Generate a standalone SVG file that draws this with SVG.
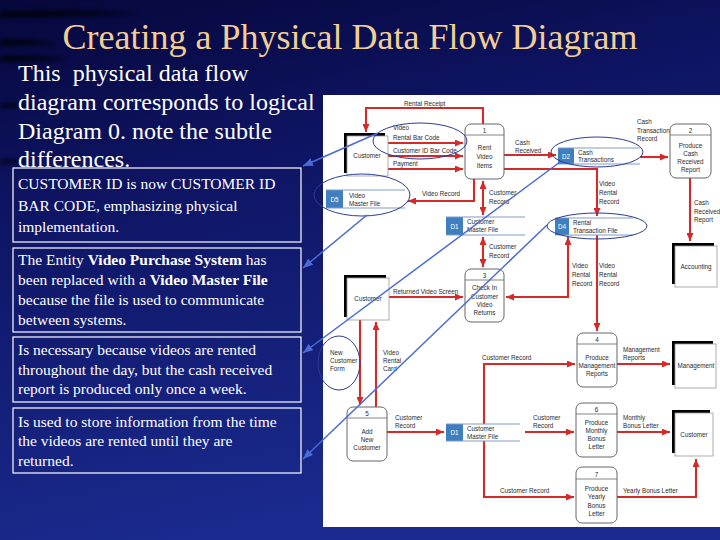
<svg xmlns="http://www.w3.org/2000/svg" width="720" height="540" viewBox="0 0 720 540">
<defs>
<linearGradient id="bg" x1="0" y1="0" x2="0.3" y2="1">
<stop offset="0" stop-color="#06073a"/>
<stop offset="0.35" stop-color="#0e1462"/>
<stop offset="1" stop-color="#1a2a8e"/>
</linearGradient>
<filter id="blur" x="-20%" y="-200%" width="140%" height="500%"><feGaussianBlur stdDeviation="2"/></filter>
<marker id="ar" viewBox="0 0 8 7" refX="8" refY="3.5" markerWidth="8" markerHeight="7" markerUnits="userSpaceOnUse" orient="auto-start-reverse">
<path d="M0,0 L8,3.5 L0,7 z" fill="#d42a2a"/>
</marker>
<marker id="ab" viewBox="0 0 10 8" refX="10" refY="4" markerWidth="10" markerHeight="8" markerUnits="userSpaceOnUse" orient="auto">
<path d="M0,0 L10,4 L0,8 z" fill="#4a6ad6"/>
</marker>
<style>
.title{font-family:"Liberation Serif",serif;font-size:36px;fill:#f2ce96}
.intro{font-family:"Liberation Serif",serif;font-size:24px;fill:#ffffff}
.note{font-family:"Liberation Serif",serif;font-size:15.5px;fill:#ffffff}
.nbox{fill:none;stroke:#ffffff;stroke-width:1.2}
.lbl{font-family:"Liberation Sans",Arial,sans-serif;font-size:6.3px;fill:#2a2a2a}
.ctr{text-anchor:middle}
.proc{fill:#ffffff;stroke:#666;stroke-width:1}
.hdr{stroke:#666;stroke-width:0.8}
.ent{fill:#ffffff;stroke:#999;stroke-width:0.8}
.sh{fill:#000}
.sid{fill:#3f7fc0}
.sln{stroke:#7f9cc4;stroke-width:1}
.sw{fill:#fff}
.sidt{font-family:"Liberation Sans",Arial,sans-serif;font-size:6.3px;fill:#fff;text-anchor:middle}
.flow{fill:none;stroke:#d42a2a;stroke-width:2.1;marker-end:url(#ar)}
.flow2{fill:none;stroke:#d42a2a;stroke-width:2.1;marker-end:url(#ar);marker-start:url(#ar)}
.ell{fill:none;stroke:#2c3c94;stroke-width:1}
.ann{fill:none;stroke:#4a6ad6;stroke-width:1.5;marker-end:url(#ab)}
</style>
</defs>

<rect x="0" y="0" width="720" height="540" fill="url(#bg)"/>
<g filter="url(#blur)" opacity="0.75">
<path d="M0,12 Q60,8 140,14 L0,18 z" fill="#000"/>
<path d="M0,40 Q30,38 60,44 L0,46 z" fill="#000"/>
<path d="M0,56 Q40,54 70,60 L0,62 z" fill="#000"/>
<path d="M0,104 Q20,102 40,106 L0,108 z" fill="#000"/>
<path d="M0,160 Q20,158 30,162 L0,164 z" fill="#000"/>
</g>

<text class="title ctr" x="350" y="49">Creating a Physical Data Flow Diagram</text>

<g id="intro">
<text class="intro" x="18" y="81" xml:space="preserve">This  physical data flow</text>
<text class="intro" x="18" y="110">diagram corresponds to logical</text>
<text class="intro" x="18" y="139">Diagram 0. note the subtle</text>
<text class="intro" x="18" y="167">differences.</text>
</g>

<g id="note1">
<rect class="nbox" x="13" y="168" width="288" height="74"/>
<text class="note" x="18" y="189">CUSTOMER ID is now CUSTOMER ID</text>
<text class="note" x="18" y="211">BAR CODE, emphasizing physical</text>
<text class="note" x="18" y="232">implementation.</text>
</g>
<g id="note2">
<rect class="nbox" x="13" y="248" width="288" height="84"/>
<text class="note" x="18" y="265">The Entity <tspan font-weight="bold">Video Purchase System</tspan> has</text>
<text class="note" x="18" y="285">been replaced with a <tspan font-weight="bold">Video Master File</tspan></text>
<text class="note" x="18" y="305">because the file is used to communicate</text>
<text class="note" x="18" y="325">between systems.</text>
</g>
<g id="note3">
<rect class="nbox" x="13" y="337" width="288" height="65"/>
<text class="note" x="18" y="355">Is necessary because videos are rented</text>
<text class="note" x="18" y="375">throughout the day, but the cash received</text>
<text class="note" x="18" y="394">report is produced only once a week.</text>
</g>
<g id="note4">
<rect class="nbox" x="13" y="408" width="288" height="65"/>
<text class="note" x="18" y="427">Is used to store information from the time</text>
<text class="note" x="18" y="446">the videos are rented until they are</text>
<text class="note" x="18" y="466">returned.</text>
</g>

<rect id="panel" x="323" y="95" width="397" height="432" fill="#ffffff"/>

<g id="connectors">
<path class="flow" d="M483,124 V108 H366 V132"/>
<path class="flow" d="M388,143 H463"/>
<path class="flow" d="M388,156 H463"/>
<path class="flow" d="M388,169 H463"/>
<path class="flow" d="M504,155 H556"/>
<path class="flow" d="M504,169 H597 V216"/>
<path class="flow" d="M640,157 H668"/>
<path class="flow" d="M690,178 V241"/>
<path class="flow" d="M474,179 V201 H408"/>
<path class="flow2" d="M483,181 V215"/>
<path class="flow2" d="M483,237 V267"/>
<path class="flow" d="M389,297 H463"/>
<path class="flow2" d="M506,297 H568 V237"/>
<path class="flow" d="M597,235 V331"/>
<path class="flow" d="M360,320 V405"/>
<path class="flow" d="M376,407 V322"/>
<path class="flow" d="M387,432 H444"/>
<path class="flow" d="M525,432 H574"/>
<path class="flow" d="M484,432 V364 H575"/>
<path class="flow" d="M484,432 V497 H574"/>
<path class="flow" d="M617,364 H670"/>
<path class="flow" d="M617,432 H670"/>
<path class="flow" d="M617,497 H696 V459"/>
</g>

<g id="labels">
<text class="lbl" x="404" y="105.5">Rental Receipt</text>
<text class="lbl" x="393" y="130">Video</text>
<text class="lbl" x="393" y="139.5">Rental Bar Code</text>
<text class="lbl" x="393" y="153">Customer ID Bar Code</text>
<text class="lbl" x="393" y="166">Payment</text>
<text class="lbl" x="515" y="144.5">Cash</text>
<text class="lbl" x="515" y="153">Received</text>
<text class="lbl" x="637" y="124">Cash</text>
<text class="lbl" x="637" y="132.5">Transaction</text>
<text class="lbl" x="637" y="141">Record</text>
<text class="lbl" x="599" y="186">Video</text>
<text class="lbl" x="599" y="195">Rental</text>
<text class="lbl" x="599" y="203.5">Record</text>
<text class="lbl" x="694" y="205">Cash</text>
<text class="lbl" x="694" y="213.5">Received</text>
<text class="lbl" x="694" y="222">Report</text>
<text class="lbl" x="422" y="196">Video Record</text>
<text class="lbl" x="489" y="195">Customer</text>
<text class="lbl" x="489" y="204">Record</text>
<text class="lbl" x="489" y="249">Customer</text>
<text class="lbl" x="489" y="258">Record</text>
<text class="lbl" x="393" y="293.5">Returned Video Screen</text>
<text class="lbl" x="572" y="268">Video</text>
<text class="lbl" x="572" y="277">Rental</text>
<text class="lbl" x="572" y="285.5">Record</text>
<text class="lbl" x="599" y="268">Video</text>
<text class="lbl" x="599" y="277">Rental</text>
<text class="lbl" x="599" y="285.5">Record</text>
<text class="lbl" x="330" y="354.5">New</text>
<text class="lbl" x="330" y="362.5">Customer</text>
<text class="lbl" x="330" y="370.5">Form</text>
<text class="lbl" x="383" y="354.5">Video</text>
<text class="lbl" x="383" y="362.5">Rental</text>
<text class="lbl" x="383" y="370.5">Card</text>
<text class="lbl" x="482" y="360">Customer Record</text>
<text class="lbl" x="623" y="351.5">Management</text>
<text class="lbl" x="623" y="360">Reports</text>
<text class="lbl" x="395" y="419.5">Customer</text>
<text class="lbl" x="395" y="428">Record</text>
<text class="lbl" x="533" y="419.5">Customer</text>
<text class="lbl" x="533" y="428">Record</text>
<text class="lbl" x="623" y="419.5">Monthly</text>
<text class="lbl" x="623" y="428">Bonus Letter</text>
<text class="lbl" x="500" y="493">Customer Record</text>
<text class="lbl" x="623" y="493">Yearly Bonus Letter</text>
</g>

<g id="ent-customer-1">
<rect class="sh" x="344" y="133" width="41" height="40"/>
<rect class="ent" x="347" y="136" width="41" height="40"/>
<text class="lbl ctr" x="367" y="158">Customer</text>
</g>
<g id="ent-customer-2">
<rect class="sh" x="344" y="275" width="42" height="42"/>
<rect class="ent" x="347" y="278" width="42" height="42"/>
<text class="lbl ctr" x="368" y="301">Customer</text>
</g>
<g id="ent-accounting">
<rect class="sh" x="672" y="243" width="42" height="41"/>
<rect class="ent" x="675" y="246" width="42" height="41"/>
<text class="lbl ctr" x="696" y="269">Accounting</text>
</g>
<g id="ent-management">
<rect class="sh" x="672" y="341" width="41" height="44"/>
<rect class="ent" x="675" y="344" width="41" height="44"/>
<text class="lbl ctr" x="696" y="368">Management</text>
</g>
<g id="ent-customer-3">
<rect class="sh" x="672" y="410" width="38" height="43"/>
<rect class="ent" x="675" y="413" width="38" height="43"/>
<text class="lbl ctr" x="694" y="437">Customer</text>
</g>

<g id="proc-1">
<rect class="proc" x="465" y="124" width="39" height="55" rx="6"/>
<line class="hdr" x1="465" y1="135" x2="504" y2="135"/>
<text class="lbl ctr" x="484.5" y="133">1</text>
<text class="lbl ctr" x="484.5" y="150">Rent</text>
<text class="lbl ctr" x="484.5" y="159">Video</text>
<text class="lbl ctr" x="484.5" y="168">Items</text>
</g>
<g id="proc-2">
<rect class="proc" x="670" y="124" width="41" height="54" rx="6"/>
<line class="hdr" x1="670" y1="135" x2="711" y2="135"/>
<text class="lbl ctr" x="690.5" y="133">2</text>
<text class="lbl ctr" x="690.5" y="148">Produce</text>
<text class="lbl ctr" x="690.5" y="156">Cash</text>
<text class="lbl ctr" x="690.5" y="164">Received</text>
<text class="lbl ctr" x="690.5" y="172">Report</text>
</g>
<g id="proc-3">
<rect class="proc" x="465" y="269" width="39" height="53" rx="6"/>
<line class="hdr" x1="465" y1="280" x2="504" y2="280"/>
<text class="lbl ctr" x="484.5" y="278">3</text>
<text class="lbl ctr" x="484.5" y="290">Check In</text>
<text class="lbl ctr" x="484.5" y="299">Customer</text>
<text class="lbl ctr" x="484.5" y="307">Video</text>
<text class="lbl ctr" x="484.5" y="315">Returns</text>
</g>
<g id="proc-4">
<rect class="proc" x="577" y="333" width="40" height="54" rx="6"/>
<line class="hdr" x1="577" y1="344" x2="617" y2="344"/>
<text class="lbl ctr" x="597" y="342">4</text>
<text class="lbl ctr" x="597" y="360">Produce</text>
<text class="lbl ctr" x="597" y="368">Management</text>
<text class="lbl ctr" x="597" y="376">Reports</text>
</g>
<g id="proc-5">
<rect class="proc" x="347" y="407" width="40" height="54" rx="6"/>
<line class="hdr" x1="347" y1="418" x2="387" y2="418"/>
<text class="lbl ctr" x="367" y="416">5</text>
<text class="lbl ctr" x="367" y="434">Add</text>
<text class="lbl ctr" x="367" y="442">New</text>
<text class="lbl ctr" x="367" y="450">Customer</text>
</g>
<g id="proc-6">
<rect class="proc" x="576" y="403" width="41" height="54" rx="6"/>
<line class="hdr" x1="576" y1="414" x2="617" y2="414"/>
<text class="lbl ctr" x="596.5" y="412">6</text>
<text class="lbl ctr" x="596.5" y="425">Produce</text>
<text class="lbl ctr" x="596.5" y="433">Monthly</text>
<text class="lbl ctr" x="596.5" y="441">Bonus</text>
<text class="lbl ctr" x="596.5" y="449">Letter</text>
</g>
<g id="proc-7">
<rect class="proc" x="576" y="467" width="41" height="56" rx="6"/>
<line class="hdr" x1="576" y1="479" x2="617" y2="479"/>
<text class="lbl ctr" x="596.5" y="477">7</text>
<text class="lbl ctr" x="596.5" y="491">Produce</text>
<text class="lbl ctr" x="596.5" y="499">Yearly</text>
<text class="lbl ctr" x="596.5" y="508">Bonus</text>
<text class="lbl ctr" x="596.5" y="516">Letter</text>
</g>

<g id="store-d5">
<rect class="sw" x="326" y="190" width="79" height="18"/>
<rect class="sid" x="326" y="190" width="17" height="18"/>
<line class="sln" x1="326" y1="190" x2="405" y2="190"/>
<line class="sln" x1="326" y1="208" x2="405" y2="208"/>
<text class="sidt" x="334.5" y="201.5">D5</text>
<text class="lbl" x="349" y="197.5">Video</text>
<text class="lbl" x="349" y="205.5">Master File</text>
</g>
<g id="store-d1-upper">
<rect class="sw" x="446" y="217" width="79" height="18"/>
<rect class="sid" x="446" y="217" width="17" height="18"/>
<line class="sln" x1="446" y1="217" x2="525" y2="217"/>
<line class="sln" x1="446" y1="235" x2="525" y2="235"/>
<text class="sidt" x="454.5" y="228.5">D1</text>
<text class="lbl" x="467" y="224">Customer</text>
<text class="lbl" x="467" y="232">Master File</text>
</g>
<g id="store-d2">
<rect class="sw" x="558" y="148" width="82" height="16"/>
<rect class="sid" x="558" y="148" width="16" height="16"/>
<line class="sln" x1="558" y1="148" x2="640" y2="148"/>
<line class="sln" x1="558" y1="164" x2="640" y2="164"/>
<text class="sidt" x="566" y="158.5">D2</text>
<text class="lbl" x="578" y="154.5">Cash</text>
<text class="lbl" x="578" y="162">Transactions</text>
</g>
<g id="store-d4">
<rect class="sw" x="555" y="218" width="78" height="17"/>
<rect class="sid" x="555" y="218" width="14" height="17"/>
<line class="sln" x1="555" y1="218" x2="633" y2="218"/>
<line class="sln" x1="555" y1="235" x2="633" y2="235"/>
<text class="sidt" x="562" y="229">D4</text>
<text class="lbl" x="573" y="224.5">Rental</text>
<text class="lbl" x="573" y="232.5">Transaction File</text>
</g>
<g id="store-d1-lower">
<rect class="sw" x="446" y="424" width="74" height="17"/>
<rect class="sid" x="446" y="424" width="17" height="17"/>
<line class="sln" x1="446" y1="424" x2="520" y2="424"/>
<line class="sln" x1="446" y1="441" x2="520" y2="441"/>
<text class="sidt" x="454.5" y="435">D1</text>
<text class="lbl" x="467" y="430.5">Customer</text>
<text class="lbl" x="467" y="438.5">Master File</text>
</g>

<g id="highlights">
<ellipse class="ell" cx="420" cy="141" rx="47" ry="18"/>
<ellipse class="ell" cx="362" cy="195" rx="48" ry="21"/>
<ellipse class="ell" cx="597" cy="152" rx="46" ry="15"/>
<ellipse class="ell" cx="597" cy="226" rx="50" ry="13"/>
<ellipse class="ell" cx="339" cy="363" rx="21" ry="27"/>
</g>

<g id="annotation-connectors">
<path class="ann" d="M378,133 L303,166"/>
<path class="ann" d="M367,215 L303,268"/>
<path class="ann" d="M560,162 L303,353"/>
<path class="ann" d="M547,225 L303,459"/>
</g>
</svg>
